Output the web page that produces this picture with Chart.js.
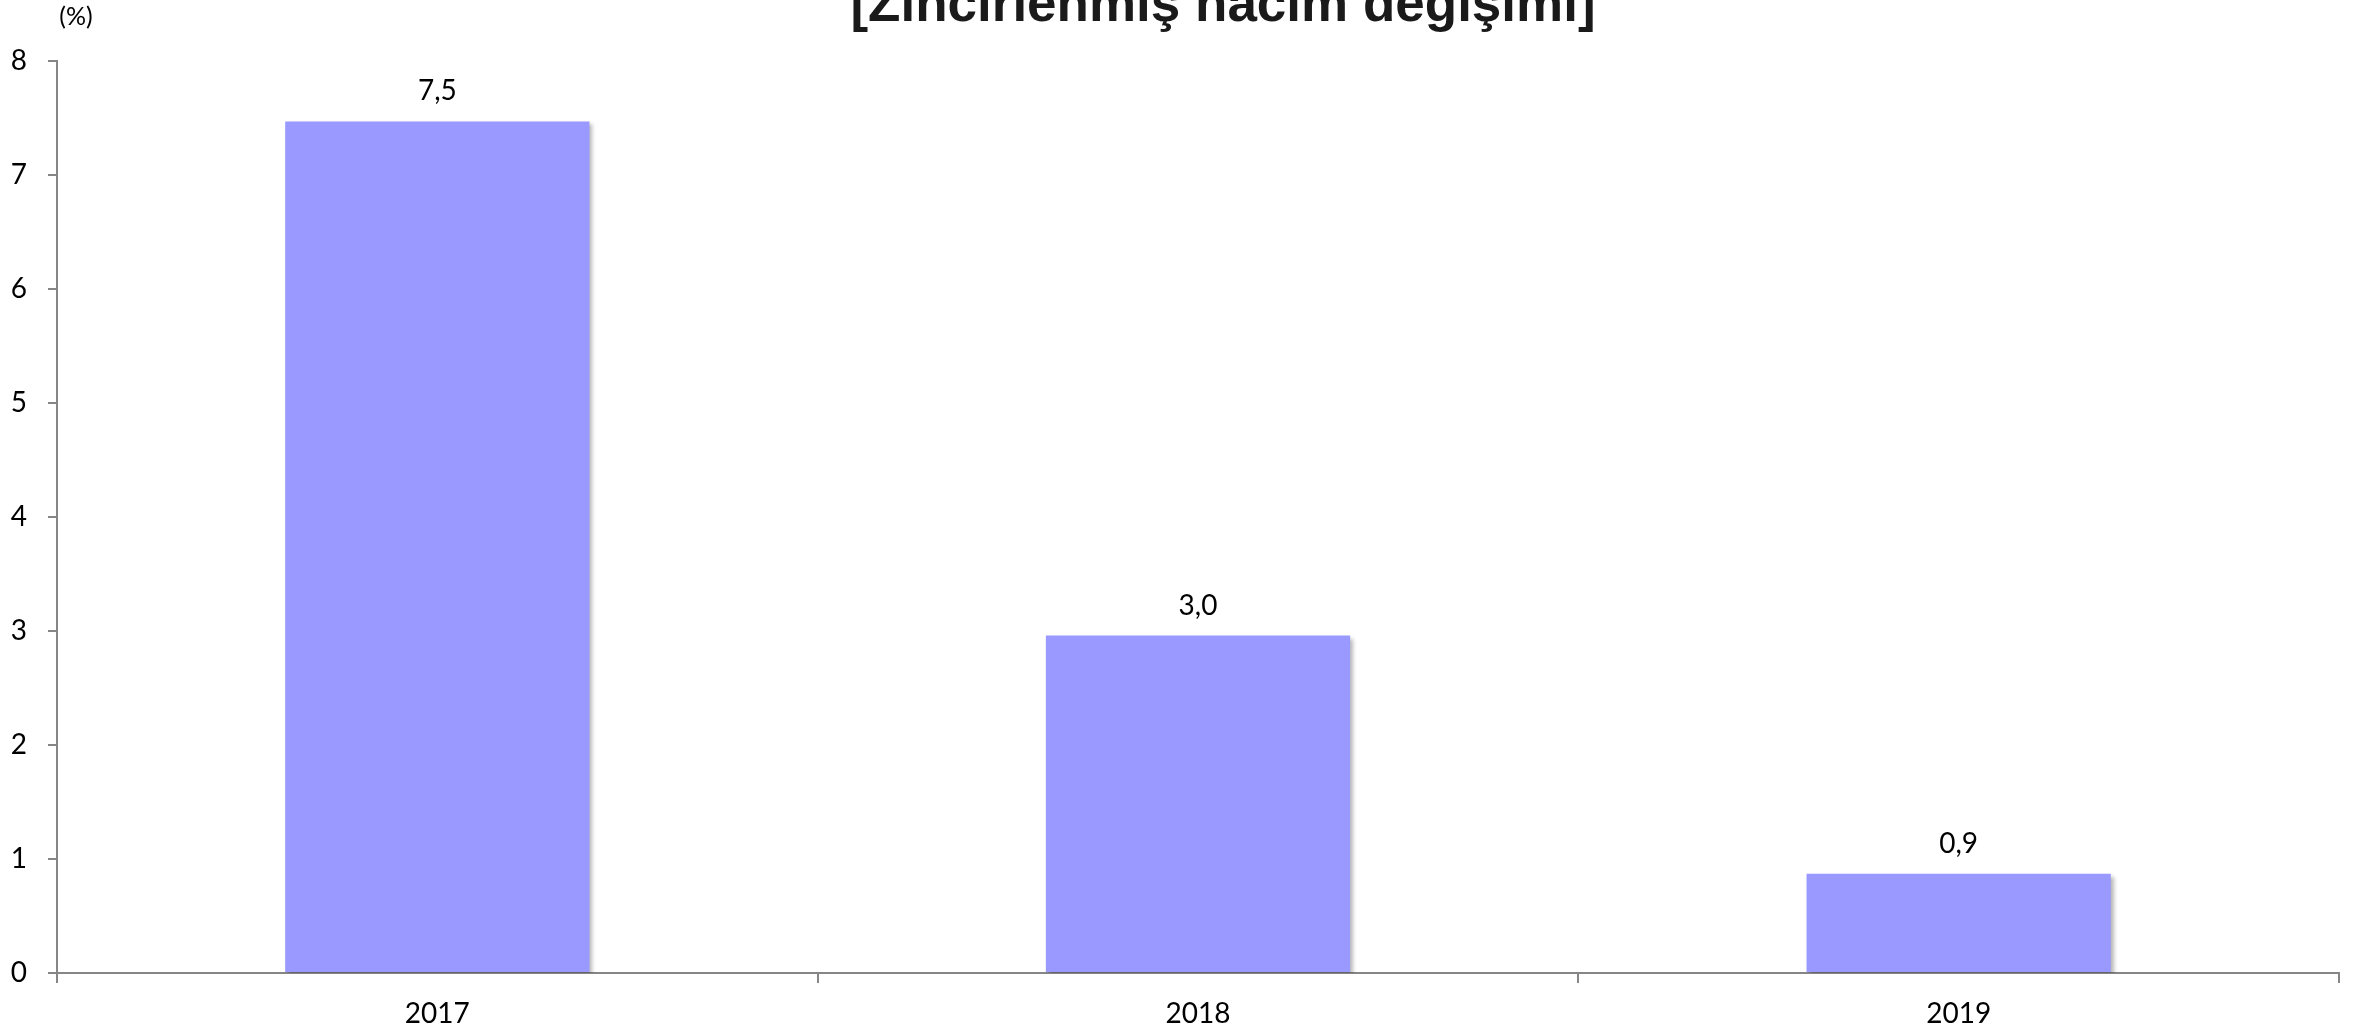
<!DOCTYPE html>
<html>
<head>
<meta charset="utf-8">
<script src="https://cdn.jsdelivr.net/npm/chart.js@4"></script>
<style>
  html, body { margin: 0; padding: 0; background: #fff; overflow: hidden; }
  #wrap { position: relative; width: 2374px; height: 1035px; }
</style>
</head>
<body>
<div id="wrap"><canvas id="grafica"></canvas></div>
<script>
// datos del grafico
const years = ["2017", "2018", "2019"];
const cambio = [7.47, 2.96, 0.87];
const yTicks = [0, 1, 2, 3, 4, 5, 6, 7, 8];
const titulo = "[Zincirlenmiş hacim değişimi]";
const unidad = "(%)";

const colorEje = "#868686";
const fuente = "Lato";

// sombra debajo de las barras
const sombraPlugin = {
    id: "sombra",
    beforeDatasetsDraw(chart) {
        const ctx = chart.ctx;
        ctx.save();
        ctx.shadowColor = "rgba(0,0,0,0.28)";
        ctx.shadowBlur = 4;
        ctx.shadowOffsetX = 3;
        ctx.shadowOffsetY = 3;
    },
    afterDatasetsDraw(chart) {
        chart.ctx.restore();
    }
};

// etiquetas encima de cada barra + titulo + (%)
const textosPlugin = {
    id: "textos",
    afterDraw(chart) {
        const ctx = chart.ctx;
        ctx.save();
        const meta = chart.getDatasetMeta(0);
        ctx.fillStyle = "#000";
        ctx.font = "28px " + fuente;
        ctx.textAlign = "center";
        ctx.textBaseline = "middle";
        meta.data.forEach((bar, i) => {
            const txt = cambio[i].toFixed(1).replace(".", ",");
            ctx.fillText(txt, bar.x, bar.y - 30);
        });

        ctx.font = "25px " + fuente;
        ctx.fillText(unidad, 76, 17);

        ctx.fillStyle = "#1a1a1a";
        ctx.font = "bold 53px 'Liberation Sans'";
        ctx.textBaseline = "alphabetic";
        ctx.fillText(titulo, 1223, 21);
        ctx.restore();
    }
};

const data = {
    labels: years,
    datasets: [{
        label: "Zincirlenmiş hacim değişimi",
        data: cambio,
        backgroundColor: "#9999FF",
        borderWidth: 0,
        barPercentage: 0.4,
        categoryPercentage: 1.0
    }]
};

const config = {
    type: "bar",
    data: data,
    options: {
        responsive: true,
        maintainAspectRatio: false,
        animation: false,
        layout: { padding: { top: 61, right: 35, left: 0, bottom: 0 } },
        plugins: {
            legend: { display: false },
            title: { display: false },
            tooltip: { enabled: false }
        },
        scales: {
            x: {
                afterFit(scale) { scale.height = 62; },
                grid: {
                    offset: true,
                    drawOnChartArea: false,
                    drawTicks: true,
                    tickLength: 10,
                    color: colorEje,
                    lineWidth: 2
                },
                border: { display: true, color: colorEje, width: 2 },
                ticks: { color: "#000", font: { family: fuente, size: 28 }, padding: 14 }
            },
            y: {
                min: 0,
                max: 8,
                afterFit(scale) { scale.width = 57; },
                afterBuildTicks(scale) { scale.ticks = yTicks.map(v => ({ value: v })); },
                grid: {
                    drawOnChartArea: false,
                    drawTicks: true,
                    tickLength: 9,
                    color: colorEje,
                    lineWidth: 2
                },
                border: { display: true, color: colorEje, width: 2 },
                ticks: { color: "#000", font: { family: fuente, size: 28 }, padding: 21 }
            }
        }
    },
    plugins: [sombraPlugin, textosPlugin]
};

const ChartPrincipal = new Chart(document.getElementById("grafica"), config);
</script>
</body>
</html>
